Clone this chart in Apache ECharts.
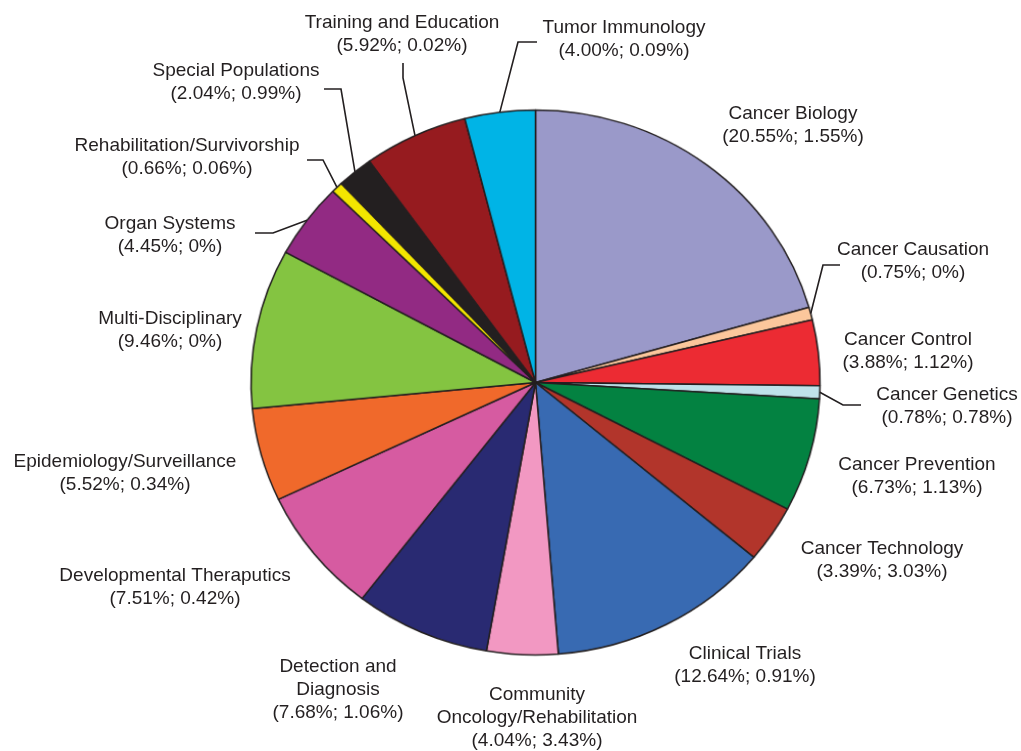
<!DOCTYPE html>
<html>
<head>
<meta charset="utf-8">
<script src="https://cdn.jsdelivr.net/npm/echarts@6/dist/echarts.min.js"></script>
<style>
  html, body { margin: 0; padding: 0; background: #fff; }
  #wrap { position: relative; width: 1021px; height: 751px; }
  #pie, #labels { position: absolute; left: 0; top: 0; width: 1021px; height: 751px; }
</style>
</head>
<body>
<div id="wrap">
  <div id="pie"></div>
  <div id="labels"></div>
</div>
<script>
// slices, clockwise from 12 o'clock
const categories = [
  'Cancer Biology', 'Cancer Causation', 'Cancer Control', 'Cancer Genetics',
  'Cancer Prevention', 'Cancer Technology', 'Clinical Trials',
  'Community\nOncology/Rehabilitation', 'Detection and\nDiagnosis',
  'Developmental Theraputics', 'Epidemiology/Surveillance', 'Multi-Disciplinary',
  'Organ Systems', 'Rehabilitation/Survivorship', 'Special Populations',
  'Training and Education', 'Tumor Immunology'
];
const shares = [20.55, 0.75, 3.88, 0.78, 6.73, 3.39, 12.64, 4.04, 7.68, 7.51, 5.52, 9.46, 4.45, 0.66, 2.04, 5.92, 4.00];
const secondShares = ['1.55%', '0%', '1.12%', '0.78%', '1.13%', '3.03%', '0.91%', '3.43%', '1.06%', '0.42%', '0.34%', '0%', '0%', '0.06%', '0.99%', '0.02%', '0.09%'];
const colors = [
  '#9a99c9', '#fbc79c', '#ec2b33', '#bfe2ea', '#038241', '#b2352b', '#386ab2',
  '#f298c2', '#292a72', '#d65ba1', '#f0692b', '#84c441', '#922a83', '#f3e600',
  '#231f20', '#961b1f', '#00b4e6'
];

// label anchor points (text block centres)
const labelPos = [
  [793, 125], [913, 261], [908, 351], [947, 406], [917, 476], [882, 560], [745, 665],
  [537, 718], [338, 690], [175, 587], [125, 473], [170, 330], [170, 235],
  [187, 157], [236, 82], [402, 34], [624, 39]
];
// leader lines: bend point and end point (start comes from the slice)
const guides = {
  1: [[823, 265], [840, 265]],
  3: [[843, 405], [861, 405]],
  12: [[273, 233], [255, 233]],
  13: [[323, 160], [307, 160]],
  14: [[341, 89], [324, 89]],
  15: [[403, 78], [403, 63]],
  16: [[518, 42], [537, 42]]
};

// the original pie is slightly oval: stretch the drawn disc a little
const cx = 535.5, cy = 382.5, R = 279;
const sx = 284.5 / R, sy = 272.5 / R;
const pieDiv = document.getElementById('pie');
pieDiv.style.transformOrigin = cx + 'px ' + cy + 'px';
pieDiv.style.transform = 'scale(' + sx + ',' + sy + ')';

const pieChart = echarts.init(pieDiv);
const labelChart = echarts.init(document.getElementById('labels'));

pieChart.setOption({
  animation: false,
  series: [{
    type: 'pie',
    center: [cx, cy],
    radius: R,
    startAngle: 90,
    clockwise: true,
    silent: true,
    data: categories.map((name, i) => ({ name: name, value: shares[i], itemStyle: { color: colors[i] } })),
    itemStyle: { borderColor: '#231f20', borderWidth: 1.5 },
    label: { show: false },
    labelLine: { show: false }
  }]
});

labelChart.setOption({
  animation: false,
  series: [{
    type: 'pie',
    center: [cx, cy],
    radius: R,
    startAngle: 90,
    clockwise: true,
    silent: true,
    data: categories.map((name, i) => ({
      name: name,
      value: shares[i],
      labelLine: { show: !!guides[i] }
    })),
    itemStyle: { color: 'rgba(0,0,0,0)', borderWidth: 0 },
    label: {
      show: true,
      color: '#231f20',
      fontFamily: 'Liberation Sans, Arial, sans-serif',
      fontSize: 19,
      lineHeight: 23,
      align: 'center',
      formatter: p => p.name + '\n(' + shares[p.dataIndex].toFixed(2) + '%; ' + secondShares[p.dataIndex] + ')'
    },
    labelLine: {
      lineStyle: { color: '#231f20', width: 1.6 },
      length: 15,
      length2: 15
    },
    labelLayout: function (params) {
      const i = params.dataIndex;
      const out = { x: labelPos[i][0], y: labelPos[i][1], align: 'center', verticalAlign: 'middle' };
      if (guides[i] && params.labelLinePoints) {
        const p0 = params.labelLinePoints[0];
        const start = [cx + (p0[0] - cx) * sx, cy + (p0[1] - cy) * sy];
        out.labelLinePoints = [start, guides[i][0], guides[i][1]];
      }
      return out;
    }
  }]
});
</script>
</body>
</html>
